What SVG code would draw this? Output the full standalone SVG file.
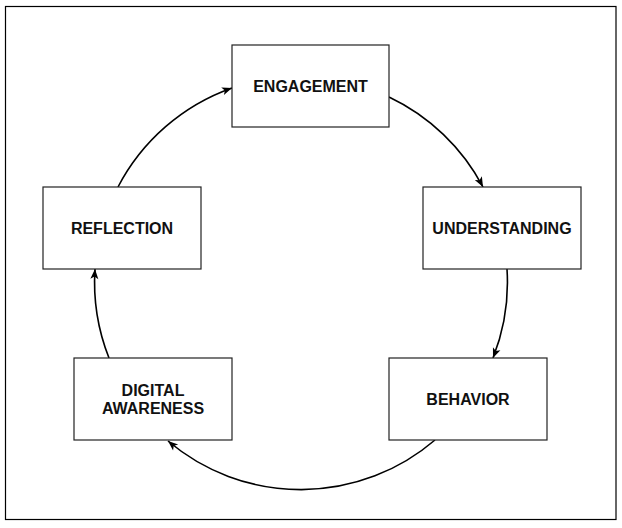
<svg xmlns="http://www.w3.org/2000/svg" width="622" height="528" viewBox="0 0 622 528">
  <defs>
    <marker id="arr" markerUnits="userSpaceOnUse" markerWidth="11" markerHeight="9" refX="10" refY="4" orient="auto" overflow="visible">
      <path d="M0,0 L10,4 L0,8 L2.5,4 z" fill="#000"/>
    </marker>
  </defs>
  <style>
    .box { fill: #fff; stroke: #222; stroke-width: 1.2; }
    .lbl { font-family: "Liberation Sans", Arial, sans-serif; font-weight: bold; font-size: 16px; fill: #111; text-anchor: middle; }
    .con { fill: none; stroke: #000; stroke-width: 1.6; marker-end: url(#arr); }
  </style>
  <rect x="5.5" y="6.5" width="610.5" height="513" fill="#fff" stroke="#000" stroke-width="1.2"/>
  <g id="connectors">
    <path class="con" d="M389,97 A206,206 0 0 1 483,187"/>
    <path class="con" d="M507,269 A206,206 0 0 1 493,358"/>
    <path class="con" d="M435,440 A206,206 0 0 1 168,441"/>
    <path class="con" d="M109,358 A206,206 0 0 1 95,269"/>
    <path class="con" d="M118,187 A206,206 0 0 1 232,88"/>
  </g>
  <g id="engagement">
    <rect class="box" x="232" y="45" width="157" height="82"/>
    <text class="lbl" x="310.5" y="91.5">ENGAGEMENT</text>
  </g>
  <g id="understanding">
    <rect class="box" x="423" y="187" width="158" height="82"/>
    <text class="lbl" x="502" y="233.5">UNDERSTANDING</text>
  </g>
  <g id="behavior">
    <rect class="box" x="389" y="358" width="158" height="82"/>
    <text class="lbl" x="468" y="404.5">BEHAVIOR</text>
  </g>
  <g id="digital-awareness">
    <rect class="box" x="74" y="358" width="158" height="82"/>
    <text class="lbl" x="153" y="395.5">DIGITAL</text>
    <text class="lbl" x="153" y="414">AWARENESS</text>
  </g>
  <g id="reflection">
    <rect class="box" x="43" y="187" width="158" height="82"/>
    <text class="lbl" x="122" y="233.5">REFLECTION</text>
  </g>
</svg>
